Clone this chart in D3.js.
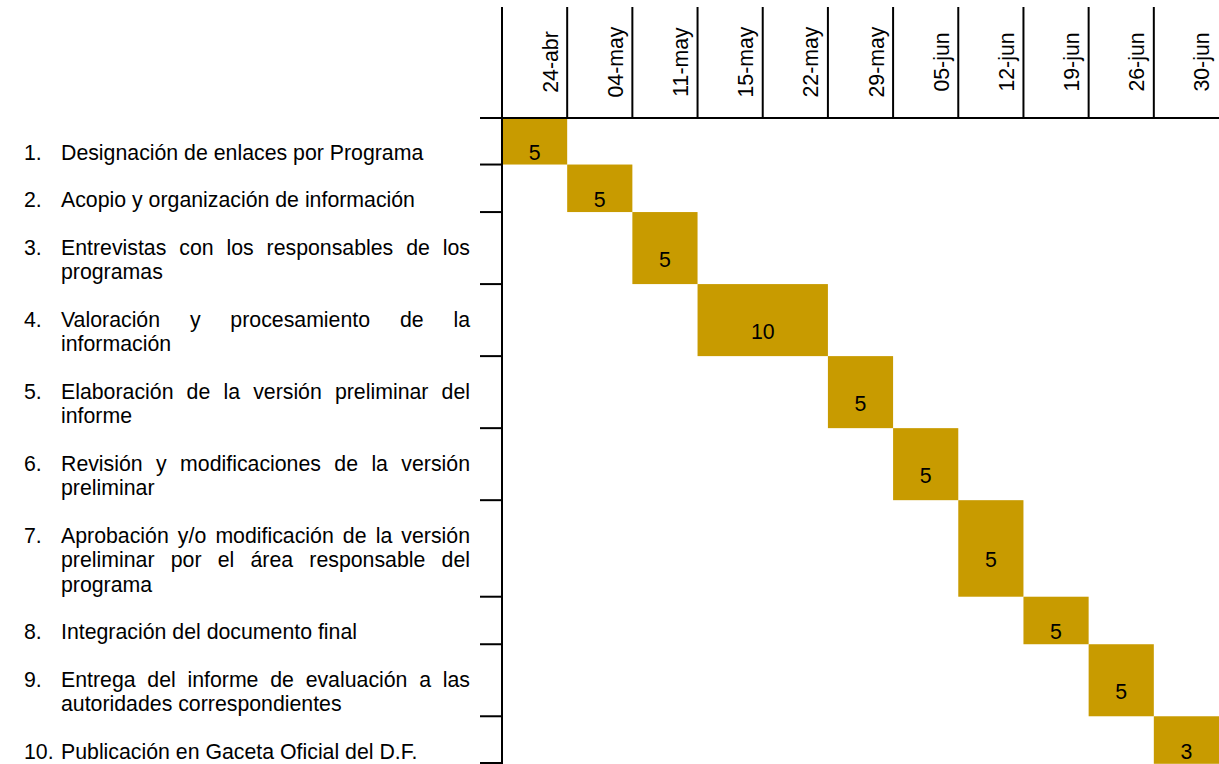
<!DOCTYPE html>
<html>
<head>
<meta charset="utf-8">
<script src="https://cdn.jsdelivr.net/npm/d3@7"></script>
<style>
  body { margin: 0; background: #fff; }
  svg text { font-family: Arial, "Liberation Sans", sans-serif; font-size: 21.3px; fill: #000; }
</style>
</head>
<body>
<div id="chart-area"></div>
<script>
// Week columns (header)
const weeks = ['24-abr', '04-may', '11-may', '15-may', '22-may', '29-may',
	'05-jun', '12-jun', '19-jun', '26-jun', '30-jun'];

// Activities, already broken in lines as in the document
const taskNumbers = ['1.', '2.', '3.', '4.', '5.', '6.', '7.', '8.', '9.', '10.'];
const taskLines = [
	['Designación de enlaces por Programa'],
	['Acopio y organización de información'],
	['Entrevistas con los responsables de los', 'programas'],
	['Valoración y procesamiento de la', 'información'],
	['Elaboración de la versión preliminar del', 'informe'],
	['Revisión y modificaciones de la versión', 'preliminar'],
	['Aprobación y/o modificación de la versión', 'preliminar por el área responsable del', 'programa'],
	['Integración del documento final'],
	['Entrega del informe de evaluación a las', 'autoridades correspondientes'],
	['Publicación en Gaceta Oficial del D.F.']
];

// first and last week column of each activity, and its duration in days
const taskStart = ['24-abr', '04-may', '11-may', '15-may', '29-may', '05-jun', '12-jun', '19-jun', '26-jun', '30-jun'];
const taskEnd   = ['24-abr', '04-may', '11-may', '22-may', '29-may', '05-jun', '12-jun', '19-jun', '26-jun', '30-jun'];
const taskDays  = [5, 5, 5, 10, 5, 5, 5, 5, 5, 3];

const width = 1219;
const height = 764;
const headerTop = 7;
const headerBottom = 117;
const gridLeft = 502;
const tickLeft = 480;
const numX = 24;
const textX = 61;
const textRight = 470;
const rowPad = 0.94;       // extra height of a row, in line units
const firstBaseline = 1.74; // first text baseline below row top, in line units

// x scale: one band per week
const x = d3.scaleBand()
	.domain(weeks)
	.range([gridLeft, width]);

// y scale: line units -> pixels (one line of text = 24.5px)
const y = d3.scaleLinear()
	.domain([0, 1])
	.range([headerBottom, headerBottom + 24.5]);

// cumulative row tops in line units
const rows = [];
let acc = 0;
taskLines.forEach((lines, i) => {
	rows.push({ i: i, top: acc, n: lines.length, bottom: acc + lines.length + rowPad });
	acc += lines.length + rowPad;
});

const svg = d3.select('#chart-area').append('svg')
	.attr('width', width)
	.attr('height', height);

// bars
svg.selectAll('rect.bar')
	.data(rows)
	.enter().append('rect')
	.attr('class', 'bar')
	.attr('x', d => x(taskStart[d.i]))
	.attr('y', d => y(d.top))
	.attr('width', d => x(taskEnd[d.i]) + x.bandwidth() - x(taskStart[d.i]))
	.attr('height', d => y(d.bottom) - y(d.top))
	.attr('fill', '#c89b00');

// bar labels
svg.selectAll('text.days')
	.data(rows)
	.enter().append('text')
	.attr('class', 'days')
	.attr('x', d => (x(taskStart[d.i]) + x(taskEnd[d.i]) + x.bandwidth()) / 2)
	.attr('y', d => y(d.top + firstBaseline + (d.n - 1) / 2))
	.attr('text-anchor', 'middle')
	.text(d => taskDays[d.i]);

// header labels (rotated)
svg.selectAll('text.week')
	.data(weeks)
	.enter().append('text')
	.attr('class', 'week')
	.attr('transform', d => `translate(${x(d) + x.bandwidth() / 2}, 62) rotate(-90)`)
	.attr('y', 23)
	.attr('text-anchor', 'middle')
	.text(d => d);

// grid lines
const lines = svg.append('g')
	.attr('stroke', '#000')
	.attr('stroke-width', 2);

lines.selectAll('line.col')
	.data(weeks.slice(1))
	.enter().append('line')
	.attr('x1', d => x(d))
	.attr('x2', d => x(d))
	.attr('y1', headerTop)
	.attr('y2', headerBottom);

lines.append('line')
	.attr('x1', gridLeft)
	.attr('x2', gridLeft)
	.attr('y1', headerTop)
	.attr('y2', height);

lines.append('line')
	.attr('x1', tickLeft)
	.attr('x2', width)
	.attr('y1', headerBottom + 1)
	.attr('y2', headerBottom + 1);

lines.selectAll('line.row')
	.data(rows)
	.enter().append('line')
	.attr('x1', tickLeft)
	.attr('x2', gridLeft)
	.attr('y1', d => Math.min(y(d.bottom), height - 1))
	.attr('y2', d => Math.min(y(d.bottom), height - 1));

// activity numbers
svg.selectAll('text.num')
	.data(rows)
	.enter().append('text')
	.attr('class', 'num')
	.attr('x', numX)
	.attr('y', d => y(d.top + firstBaseline))
	.text(d => taskNumbers[d.i]);

// activity text, justified except the last line of each item
const measure = svg.append('text').attr('visibility', 'hidden');
const wordWidth = w => measure.text(w).node().getComputedTextLength();

rows.forEach(d => {
	const block = taskLines[d.i];
	block.forEach((line, k) => {
		const base = y(d.top + firstBaseline + k);
		const t = svg.append('text').attr('y', base);
		if (k === block.length - 1) {
			t.attr('x', textX).text(line);
			return;
		}
		const words = line.split(' ');
		const widths = words.map(wordWidth);
		const gap = (textRight - textX - d3.sum(widths)) / (words.length - 1);
		let cx = textX;
		words.forEach((w, j) => {
			t.append('tspan').attr('x', cx).attr('y', base).text(w);
			cx += widths[j] + gap;
		});
	});
});
measure.remove();
</script>
</body>
</html>
